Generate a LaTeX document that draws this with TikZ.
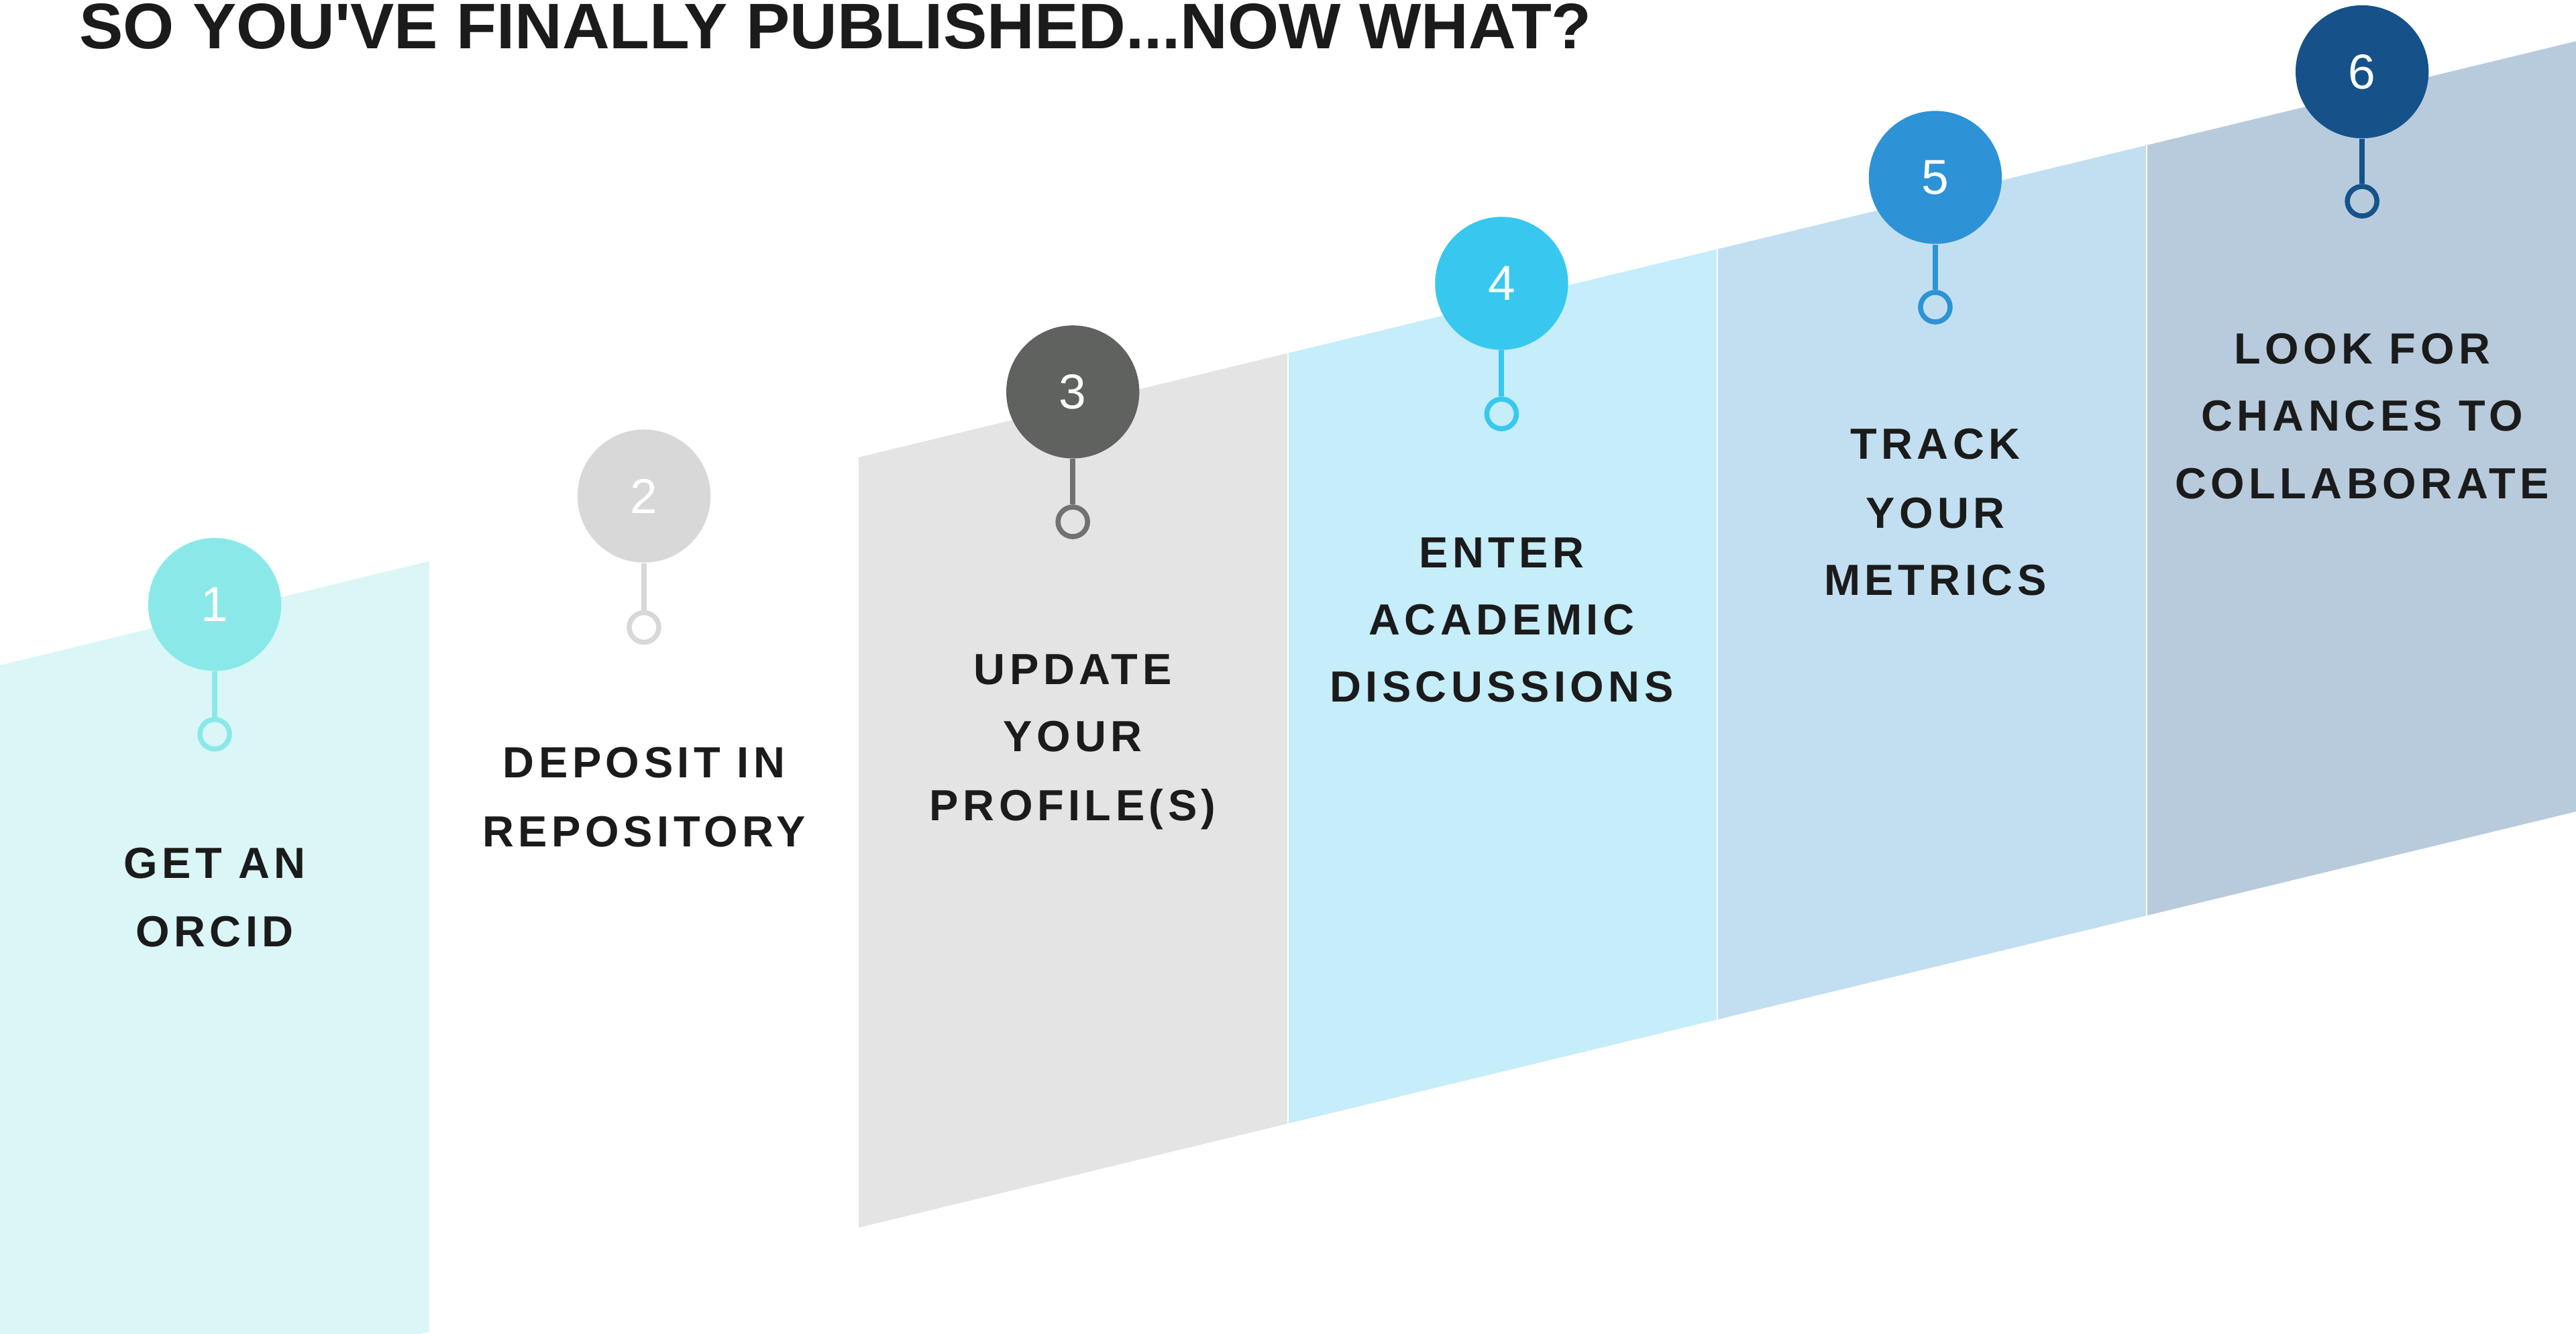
\documentclass[tikz,border=0pt]{standalone}
\usepackage{fontspec}
\setmainfont{Liberation Sans}
\newfontfamily\labelfont[LetterSpace=10]{Liberation Sans}
\newfontfamily\numfamily{Liberation Sans}
\newfontfamily\titlefont[Ligatures=TeXOff]{Liberation Sans}
\definecolor{txt}{HTML}{1B1B1B}
\definecolor{pA}{HTML}{DAF6F7}
\definecolor{pC}{HTML}{E4E4E4}
\definecolor{pD}{HTML}{C5EDFA}
\definecolor{pE}{HTML}{C2DFF1}
\definecolor{pF}{HTML}{B8CBDD}
\definecolor{cA}{HTML}{8AE9E8}
\definecolor{cB}{HTML}{D8D8D8}
\definecolor{cC}{HTML}{60625F}
\definecolor{cD}{HTML}{38C8EF}
\definecolor{cE}{HTML}{2D93D6}
\definecolor{cF}{HTML}{165289}
\begin{document}
\begin{tikzpicture}[x=0.02cm,y=-0.02cm,
  num/.style={circle, inner sep=0pt, minimum size=1.62cm, text=white, font=\numfamily\fontsize{17pt}{20pt}\selectfont},
  ring/.style={circle, draw, line width=1.75pt, minimum size=0.36cm, inner sep=0pt},
  stem/.style={line width=1.9pt},
  lbl/.style={anchor=base, inner sep=0pt, text=txt, font=\labelfont\bfseries\fontsize{15.1pt}{18pt}\selectfont},
  sep/.style={draw=white, line width=0.5pt}
]
\useasboundingbox (0,0) rectangle (1568,812);
\clip (0,0) rectangle (1568,812);
% panels
\fill[pA] (0,405) -- (261.3,341.7) -- (261.3,810.7) -- (0,874) -- cycle;
\fill[pC] (522.7,278.4) -- (784,215.0) -- (784,684.0) -- (522.7,747.4) -- cycle;
\fill[pD] (784,215.0) -- (1045.3,151.7) -- (1045.3,620.7) -- (784,684.0) -- cycle;
\fill[pE] (1045.3,151.7) -- (1306.7,88.4) -- (1306.7,557.4) -- (1045.3,620.7) -- cycle;
\fill[pF] (1306.7,88.4) -- (1568,25.1) -- (1568,494.1) -- (1306.7,557.4) -- cycle;
\draw[sep] (784,215.0) -- (784,684.0);
\draw[sep] (1045.3,151.7) -- (1045.3,620.7);
\draw[sep] (1306.7,88.4) -- (1306.7,557.4);
% title
\node[anchor=base west, inner sep=0pt, text=txt] (title) at (48,29.4)
  {\resizebox{18.41cm}{0.548cm}{\titlefont\bfseries SO YOU'VE FINALLY PUBLISHED...NOW WHAT?}};
% step 1
\node[num, fill=cA] (n1) at (130.7,368) {1};
\node[ring, draw=cA] (r1) at (130.7,447) {};
\draw[stem, cA] (n1.south) -- (r1.north);
\node[lbl] (t1a) at (130.7,534.5) {GET AN};
\node[lbl] (t1b) at (130.7,576.5) {ORCID};
% step 2
\node[num, fill=cB] (n2) at (392,302) {2};
\node[ring, draw=cB] (r2) at (392,382) {};
\draw[stem, cB] (n2.south) -- (r2.north);
\node[lbl] (t2a) at (392,473.5) {DEPOSIT IN};
\node[lbl] (t2b) at (392,515.5) {REPOSITORY};
% step 3
\node[num, fill=cC] (n3) at (653,238.6) {3};
\node[ring, draw=cC!90!white] (r3) at (653,317.7) {};
\draw[stem, cC!90!white] (n3.south) -- (r3.north);
\node[lbl] (t3a) at (653,416.5) {UPDATE};
\node[lbl] (t3b) at (653,457.5) {YOUR};
\node[lbl] (t3c) at (653,499.5) {PROFILE(S)};
% step 4
\node[num, fill=cD] (n4) at (914,172.5) {4};
\node[ring, draw=cD] (r4) at (914,252) {};
\draw[stem, cD] (n4.south) -- (r4.north);
\node[lbl] (t4a) at (914,345.5) {ENTER};
\node[lbl] (t4b) at (914,386.5) {ACADEMIC};
\node[lbl] (t4c) at (914,427.5) {DISCUSSIONS};
% step 5
\node[num, fill=cE] (n5) at (1178,108) {5};
\node[ring, draw=cE] (r5) at (1178,187) {};
\draw[stem, cE] (n5.south) -- (r5.north);
\node[lbl] (t5a) at (1178,279.5) {TRACK};
\node[lbl] (t5b) at (1178,321.5) {YOUR};
\node[lbl] (t5c) at (1178,362.5) {METRICS};
% step 6
\node[num, fill=cF] (n6) at (1437.8,43.7) {6};
\node[ring, draw=cF] (r6) at (1437.8,122.5) {};
\draw[stem, cF] (n6.south) -- (r6.north);
\node[lbl] (t6a) at (1437.8,221.5) {LOOK FOR};
\node[lbl] (t6b) at (1437.8,262.5) {CHANCES TO};
\node[lbl] (t6c) at (1437.8,303.5) {COLLABORATE};
\end{tikzpicture}
\end{document}
